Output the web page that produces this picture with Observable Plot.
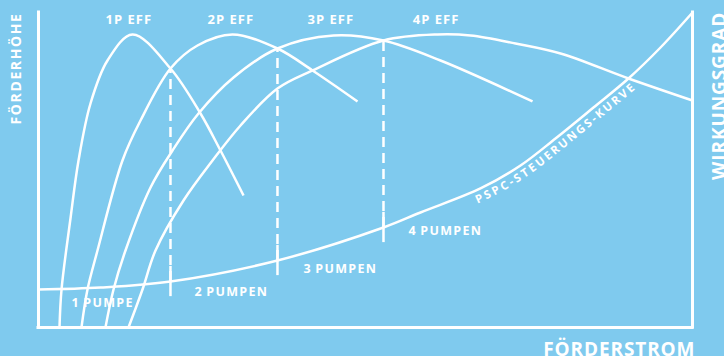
<!DOCTYPE html>
<html>
<head>
<meta charset="utf-8">
<script src="https://cdn.jsdelivr.net/npm/d3@7"></script>
<script src="https://cdn.jsdelivr.net/npm/@observablehq/plot@0.6"></script>
<style>
  html, body { margin: 0; padding: 0; background: #7fcaee; overflow: hidden; }
  #chart svg { display: block; }
</style>
</head>
<body>
<div id="chart"></div>
<script>
// ---- Data (abstract units: flow 0–100, head/efficiency 0–100) ----
const eff1X = [3.21, 3.52, 4.89, 6.12, 7.95, 10.55, 14.37, 20.18, 24.77, 27.83, 31.35];
const eff1Y = [0, 12.06, 34.60, 53.02, 71.11, 84.76, 93.02, 82.22, 67.94, 56.19, 41.90];

const eff2X = [6.57, 7.49, 9.02, 12.84, 15.60, 20.18, 24.31, 29.66, 36.54, 41.90, 48.78];
const eff2Y = [0, 12.06, 24.44, 53.02, 65.71, 82.22, 89.52, 93.02, 88.57, 81.59, 71.75];

const eff3X = [10.24, 11.47, 13.30, 17.13, 20.49, 24.46, 29.82, 36.54, 45.11, 52.75, 61.47, 75.54];
const eff3Y = [0, 12.06, 24.44, 44.44, 56.19, 67.94, 79.37, 88.57, 92.70, 91.11, 84.76, 71.75];

const eff4X = [13.76, 15.90, 17.89, 22.17, 26.61, 30.89, 36.54, 41.90, 52.75, 61.01, 66.06, 72.94, 79.82, 90.21, 100];
const eff4Y = [0, 12.06, 24.44, 40.32, 53.02, 64.13, 75.87, 81.59, 91.11, 93.02, 92.70, 90.16, 86.98, 79.05, 72.06];

const pspcX = [0, 9.48, 20.18, 36.54, 52.75, 58.41, 67.58, 73.70, 79.05, 84.86, 90.21, 95.11, 100];
const pspcY = [12.06, 12.70, 14.60, 21.27, 31.75, 36.51, 44.13, 51.43, 60.00, 69.84, 79.05, 88.89, 100];

const switchX = [20.18, 36.54, 52.75];
const switchTop = [82.22, 88.57, 91.11];
const switchPspc = [14.60, 21.27, 31.75];
const tickHalf = 4.8;

const effLabels = ["1P EFF", "2P EFF", "3P EFF", "4P EFF"];
const effLabelX = [13.8, 29.4, 44.7, 60.8];
const effLabelY = [97.6, 97.6, 97.6, 97.6];

const pumpLabels = ["1\u2009PUMPE", "2\u2009PUMPEN", "3\u2009PUMPEN", "4\u2009PUMPEN"];
const pumpLabelX = [5.05, 23.85, 40.52, 56.57];
const pumpLabelY = [7.62, 11.27, 18.73, 30.79];

const pspcLabel = "PSPC-STEUERUNGS-KURVE";
const pspcLabelStart = 66.3;

const axisTitleY = "FÖRDERHÖHE";
const axisTitleY2 = "WIRKUNGSGRAD";
const axisTitleX = "FÖRDERSTROM";

// ---- Build tables ----
const effSeries = [
  ["1P", eff1X, eff1Y], ["2P", eff2X, eff2Y], ["3P", eff3X, eff3Y], ["4P", eff4X, eff4Y]
];
const effData = effSeries.flatMap(([s, xs, ys]) => xs.map((x, i) => ({series: s, x, y: ys[i]})));
const pspc = pspcX.map((x, i) => ({x, y: pspcY[i]}));
const switches = switchX.map((x, i) => ({x, top: switchTop[i], pspcAt: switchPspc[i]}));
const effLab = effLabels.map((t, i) => ({t, x: effLabelX[i], y: effLabelY[i]}));
const pumpLab = pumpLabels.map((t, i) => ({t, x: pumpLabelX[i], y: pumpLabelY[i]}));

// render hook helper
const withAttr = (name, value) => (index, scales, values, dims, ctx, next) => {
  const g = next(index, scales, values, dims, ctx);
  if (g) g.setAttribute(name, value);
  return g;
};

const W = "white";
const chart = Plot.plot({
  width: 724,
  height: 356,
  marginLeft: 38,
  marginRight: 32,
  marginTop: 12,
  marginBottom: 29,
  x: {domain: [0, 100], axis: null},
  y: {domain: [0, 100], axis: null},
  style: {background: "#7fcaee", fontFamily: "'Open Sans', sans-serif", color: W, overflow: "visible"},
  marks: [
    Plot.ruleX([0, 100], {stroke: W, strokeWidth: 3, strokeLinecap: "square"}),
    Plot.ruleY([0], {stroke: W, strokeWidth: 3, strokeLinecap: "square"}),
    Plot.line(effData, {x: "x", y: "y", z: "series", curve: "catmull-rom", stroke: W, strokeWidth: 2.5, strokeLinecap: "butt"}),
    Plot.line(pspc, {x: "x", y: "y", curve: "catmull-rom", stroke: W, strokeWidth: 2.5, render: withAttr("data-role", "pspc")}),
    Plot.ruleX(switches, {x: "x", y1: "pspcAt", y2: "top", stroke: W, strokeWidth: 2.5, strokeDasharray: "10,6"}),
    Plot.ruleX(switches, {x: "x", y1: d => d.pspcAt - tickHalf, y2: d => d.pspcAt + tickHalf, stroke: W, strokeWidth: 2.5}),
    Plot.text(effLab, {x: "x", y: "y", text: "t", fill: W, fontSize: 13, fontWeight: 700, lineAnchor: "middle", render: withAttr("letter-spacing", "1")}),
    Plot.text(pumpLab, {x: "x", y: "y", text: "t", fill: W, fontSize: 12.5, fontWeight: 700, textAnchor: "start", lineAnchor: "middle", render: withAttr("letter-spacing", "1.3")}),
    Plot.text([axisTitleY], {x: -2.6, y: 100, text: d => d, rotate: -90, textAnchor: "end", lineAnchor: "bottom", fill: W, fontSize: 14, fontWeight: 700, render: withAttr("letter-spacing", "1.6")}),
    Plot.text([axisTitleY2], {x: 105.14, y: 100.2, text: d => d, rotate: -90, textAnchor: "end", lineAnchor: "bottom", fill: W, fontSize: 19, fontWeight: 700, render: withAttr("letter-spacing", "0.9")}),
    Plot.text([axisTitleX], {x: 100.45, y: -9.2, text: d => d, textAnchor: "end", lineAnchor: "bottom", fill: W, fontSize: 19, fontWeight: 700, render: withAttr("letter-spacing", "0.9")})
  ]
});
document.getElementById("chart").append(chart);

// Text along the PSPC curve, positioned through the x scale
const pathEl = chart.querySelector('g[data-role="pspc"] path');
if (pathEl) {
  pathEl.setAttribute("id", "pspc-path");
  const targetX = chart.scale("x").apply(pspcLabelStart);
  const L = pathEl.getTotalLength();
  let lo = 0, hi = L;
  for (let i = 0; i < 40; i++) {
    const m = (lo + hi) / 2;
    if (pathEl.getPointAtLength(m).x < targetX) lo = m; else hi = m;
  }
  const ns = "http://www.w3.org/2000/svg";
  const t = document.createElementNS(ns, "text");
  t.setAttribute("fill", W);
  t.setAttribute("stroke", "none");
  t.setAttribute("font-size", "11.5");
  t.setAttribute("font-weight", "700");
  t.setAttribute("letter-spacing", "2.2");
  t.setAttribute("text-anchor", "start");
  t.setAttribute("font-family", "'Open Sans', sans-serif");
  const tp = document.createElementNS(ns, "textPath");
  tp.setAttribute("href", "#pspc-path");
  tp.setAttribute("startOffset", String(lo));
  const ts = document.createElementNS(ns, "tspan");
  ts.setAttribute("dy", "12.5");
  ts.textContent = pspcLabel;
  tp.append(ts);
  t.append(tp);
  pathEl.parentNode.append(t);
}
</script>
</body>
</html>
